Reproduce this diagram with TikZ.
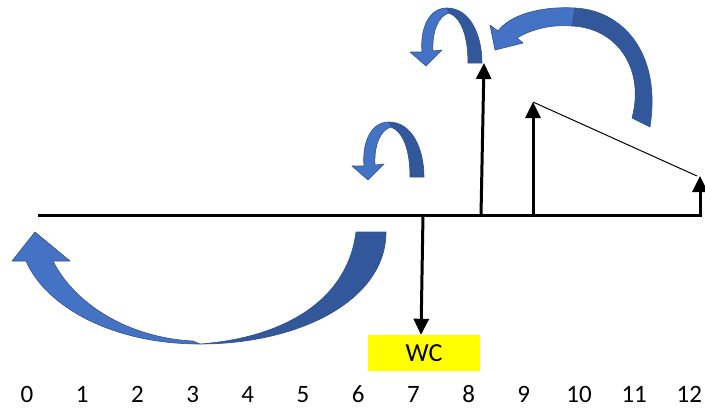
\documentclass[tikz,border=0pt]{standalone}
\usepackage{fontspec}
\setmainfont{Carlito}
\usetikzlibrary{arrows.meta}
\definecolor{lightblue}{RGB}{68,114,196}
\definecolor{darkblue}{RGB}{50,88,155}
\definecolor{edgeblue}{RGB}{47,82,143}
\definecolor{wcyellow}{RGB}{255,255,0}
\begin{document}
\begin{tikzpicture}[x=1pt,y=-1pt,
  front/.style={fill=lightblue,draw=edgeblue,line width=0.6pt,line join=round},
  back/.style={fill=darkblue,draw=edgeblue,line width=0.6pt,line join=round},
  vec/.style={line width=3pt,-{Triangle[width=15pt,length=16pt]}},
  num/.style={font=\fontsize{25}{29}\selectfont, inner sep=0pt, anchor=base},
  wcbox/.style={fill=wcyellow, minimum width=112pt, minimum height=36pt, inner sep=0pt, font=\fontsize{26}{30}\selectfont},
]
\useasboundingbox (0,0) rectangle (705,408);

% axis
\coordinate (axL) at (38,215);
\coordinate (axR) at (702,215);
\draw[line width=3pt] (axL) -- (axR);

% vectors
\coordinate (f7) at (423,215);
\coordinate (f8) at (481,215);
\coordinate (f9) at (533,215);
\coordinate (f12) at (700,215);
\coordinate (t8) at (484,63);
\coordinate (t9) at (533,102);
\coordinate (t12) at (700,176);
\node[wcbox] (wc) at (424,353) {WC};
\draw[vec] (f7) -- ([xshift=-3pt]wc.north);
\draw[vec] (f8) -- (t8);
\draw[vec] (f9) -- (t9);
\draw[vec] (f12) -- (t12);
\draw[line width=1pt] (t9) -- ([xshift=-3pt]t12);

% big bottom curved arrow
\path[back] (386,232) .. controls (386,300) and (300,344) .. (200,344)
  .. controls (280,338) and (347,303) .. (356,232) -- cycle;
\path[front] (200,344) .. controls (110,344) and (45,305) .. (26,261)
  -- (12,261) -- (35,232) -- (70,261) -- (53,261)
  .. controls (75,305) and (130,338) .. (193,341) -- cycle;

% small curved arrow (top) and its copy (middle)
\foreach \sx/\sy in {0/0,-58/114}{
  \begin{scope}[shift={(\sx,\sy)}]
  \path[back] (447,8) .. controls (470,8) and (482,35) .. (482,63)
    -- (468,63) .. controls (468,38) and (462,18) .. (449,13) -- cycle;
  \path[front] (447,8) .. controls (428,8) and (420,30) .. (422,52)
    -- (410,52) -- (426,66) -- (442,50) -- (433,51)
    .. controls (432,32) and (438,16) .. (449,13) -- cycle;
  \end{scope}
}

% big top-right curved arrow
\path[back] (575,8) .. controls (620,10) and (662,50) .. (650,127)
  -- (632,118) .. controls (645,70) and (618,28) .. (572,26) -- cycle;
\path[front] (498,31) .. controls (510,15) and (540,6) .. (575,8)
  -- (572,26) .. controls (550,24) and (530,30) .. (517,38)
  -- (523,43) -- (495,50) -- (490,25) -- cycle;

% numbers
\foreach \i in {0,...,12}{
  \node[num] (n\i) at ({27+55.2*\i},402) {\i};
}
\end{tikzpicture}
\end{document}
